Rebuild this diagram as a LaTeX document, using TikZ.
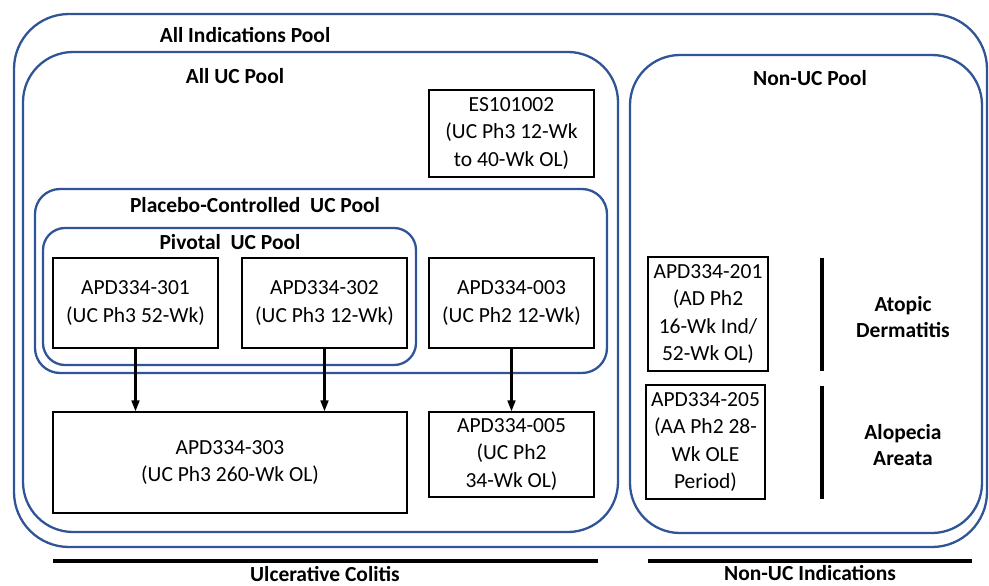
\documentclass[tikz,border=0pt]{standalone}
\usepackage{fontspec}
\setmainfont{Carlito}
\usepackage{xcolor}
\usetikzlibrary{
arrows.meta,
positioning
}
\definecolor{poolblue}{HTML}{2F5597}

\begin{document}
\begin{tikzpicture}[
    x=1pt, y=-1pt,
    >={Triangle[angle=45:10pt,length=11pt]},
    pool/.style={draw=poolblue, line width=2.3pt, rounded corners=#1, inner sep=0pt},
    study/.style={draw, line width=1.1pt,
      fill=white,
      align=center,
      inner sep=0pt,
      font=\fontsize{21.5}{27.6}\selectfont},
    title/.style={font=\bfseries\fontsize{21.5}{26}\selectfont, align=center},
    bar/.style={line width=4pt},
    flow/.style={->, line width=2.4pt}
  ]
  \useasboundingbox (0,0) rectangle (989,586);
  % pools
	\node[pool=55pt, minimum width=973pt, minimum height=533pt] (allind) at (500.5,280.5) {};
	\node[pool=50pt, minimum width=595pt, minimum height=480pt] (alluc) at (320.5,292) {};
	\node[pool=50pt, minimum width=352pt, minimum height=478pt] (nonuc) at (806,294) {};
	\node[pool=25pt, minimum width=572pt, minimum height=184pt] (placebo) at (321,281) {};
	\node[pool=22pt, minimum width=373pt, minimum height=137pt] (pivotal) at (229.5,296.5) {};
	\node[title] (allindT) at (245,35) {All Indications Pool};
	\node[title] (allucT) at (235,76) {All UC Pool};
	\node[title] (nonucT) at (810,78) {Non-UC Pool};
	\node[title] (placeboT) at (255,205) {Placebo-Controlled\ \ UC Pool};
	\node[title] (pivotalT) at (230,242) {Pivotal\ \ UC Pool};

  % studies
	\node[study, minimum width=165pt, minimum height=87pt] (es) at (511.5,133.5) {ES101002\\(UC Ph3 12-Wk\\to 40-Wk OL)};
	\node[study, minimum width=165pt, minimum height=90pt] (s301) at (135.5,303) {APD334-301\\(UC Ph3 52-Wk)};
	\node[study, minimum width=165pt, minimum height=90pt] (s302) at (324.5,303) {APD334-302\\(UC Ph3 12-Wk)};
	\node[study, minimum width=165pt, minimum height=90pt] (s003) at (511.5,303) {APD334-003\\(UC Ph2 12-Wk)};
	\node[study, minimum width=354pt, minimum height=101pt] (s303) at (230,462.5) {APD334-303\\(UC Ph3 260-Wk OL)};
	\node[study, minimum width=165pt, minimum height=85pt] (s005) at (511.5,454.5) {APD334-005\\(UC Ph2\\34-Wk OL)};
	\node[study, minimum width=120pt, minimum height=114pt] (s201) at (708,314) {APD334-201\\(AD Ph2\\16-Wk Ind/\\52-Wk OL)};
	\node[study, minimum width=119pt, minimum height=114pt] (s205) at (705.5,442) {APD334-205\\(AA Ph2 28-\\Wk OLE\\Period)};

  \draw[flow] (s301.south) -- (s301.south |- s303.north);
  \draw[flow] (s302.south) -- (s302.south |- s303.north);
  \draw[flow] (s003.south) -- (s005.north);

  % indications
	\node[title] (ad) at (903,317) {Atopic\\Dermatitis};
	\node[title] (aa) at (903,445) {Alopecia\\Areata};
	\draw[bar] (822,258) -- (822,371);
	\draw[bar] (822,386) -- (822,499);
	\draw[bar] (53,561) -- (598,561);
	\draw[bar] (648,561) -- (972,561);
	\node[title, anchor=base] (ucT) at (325,581) {Ulcerative Colitis};
	\node[title, anchor=base] (nonucIndT) at (810,580) {Non-UC Indications};
\end{tikzpicture}
\end{document}
